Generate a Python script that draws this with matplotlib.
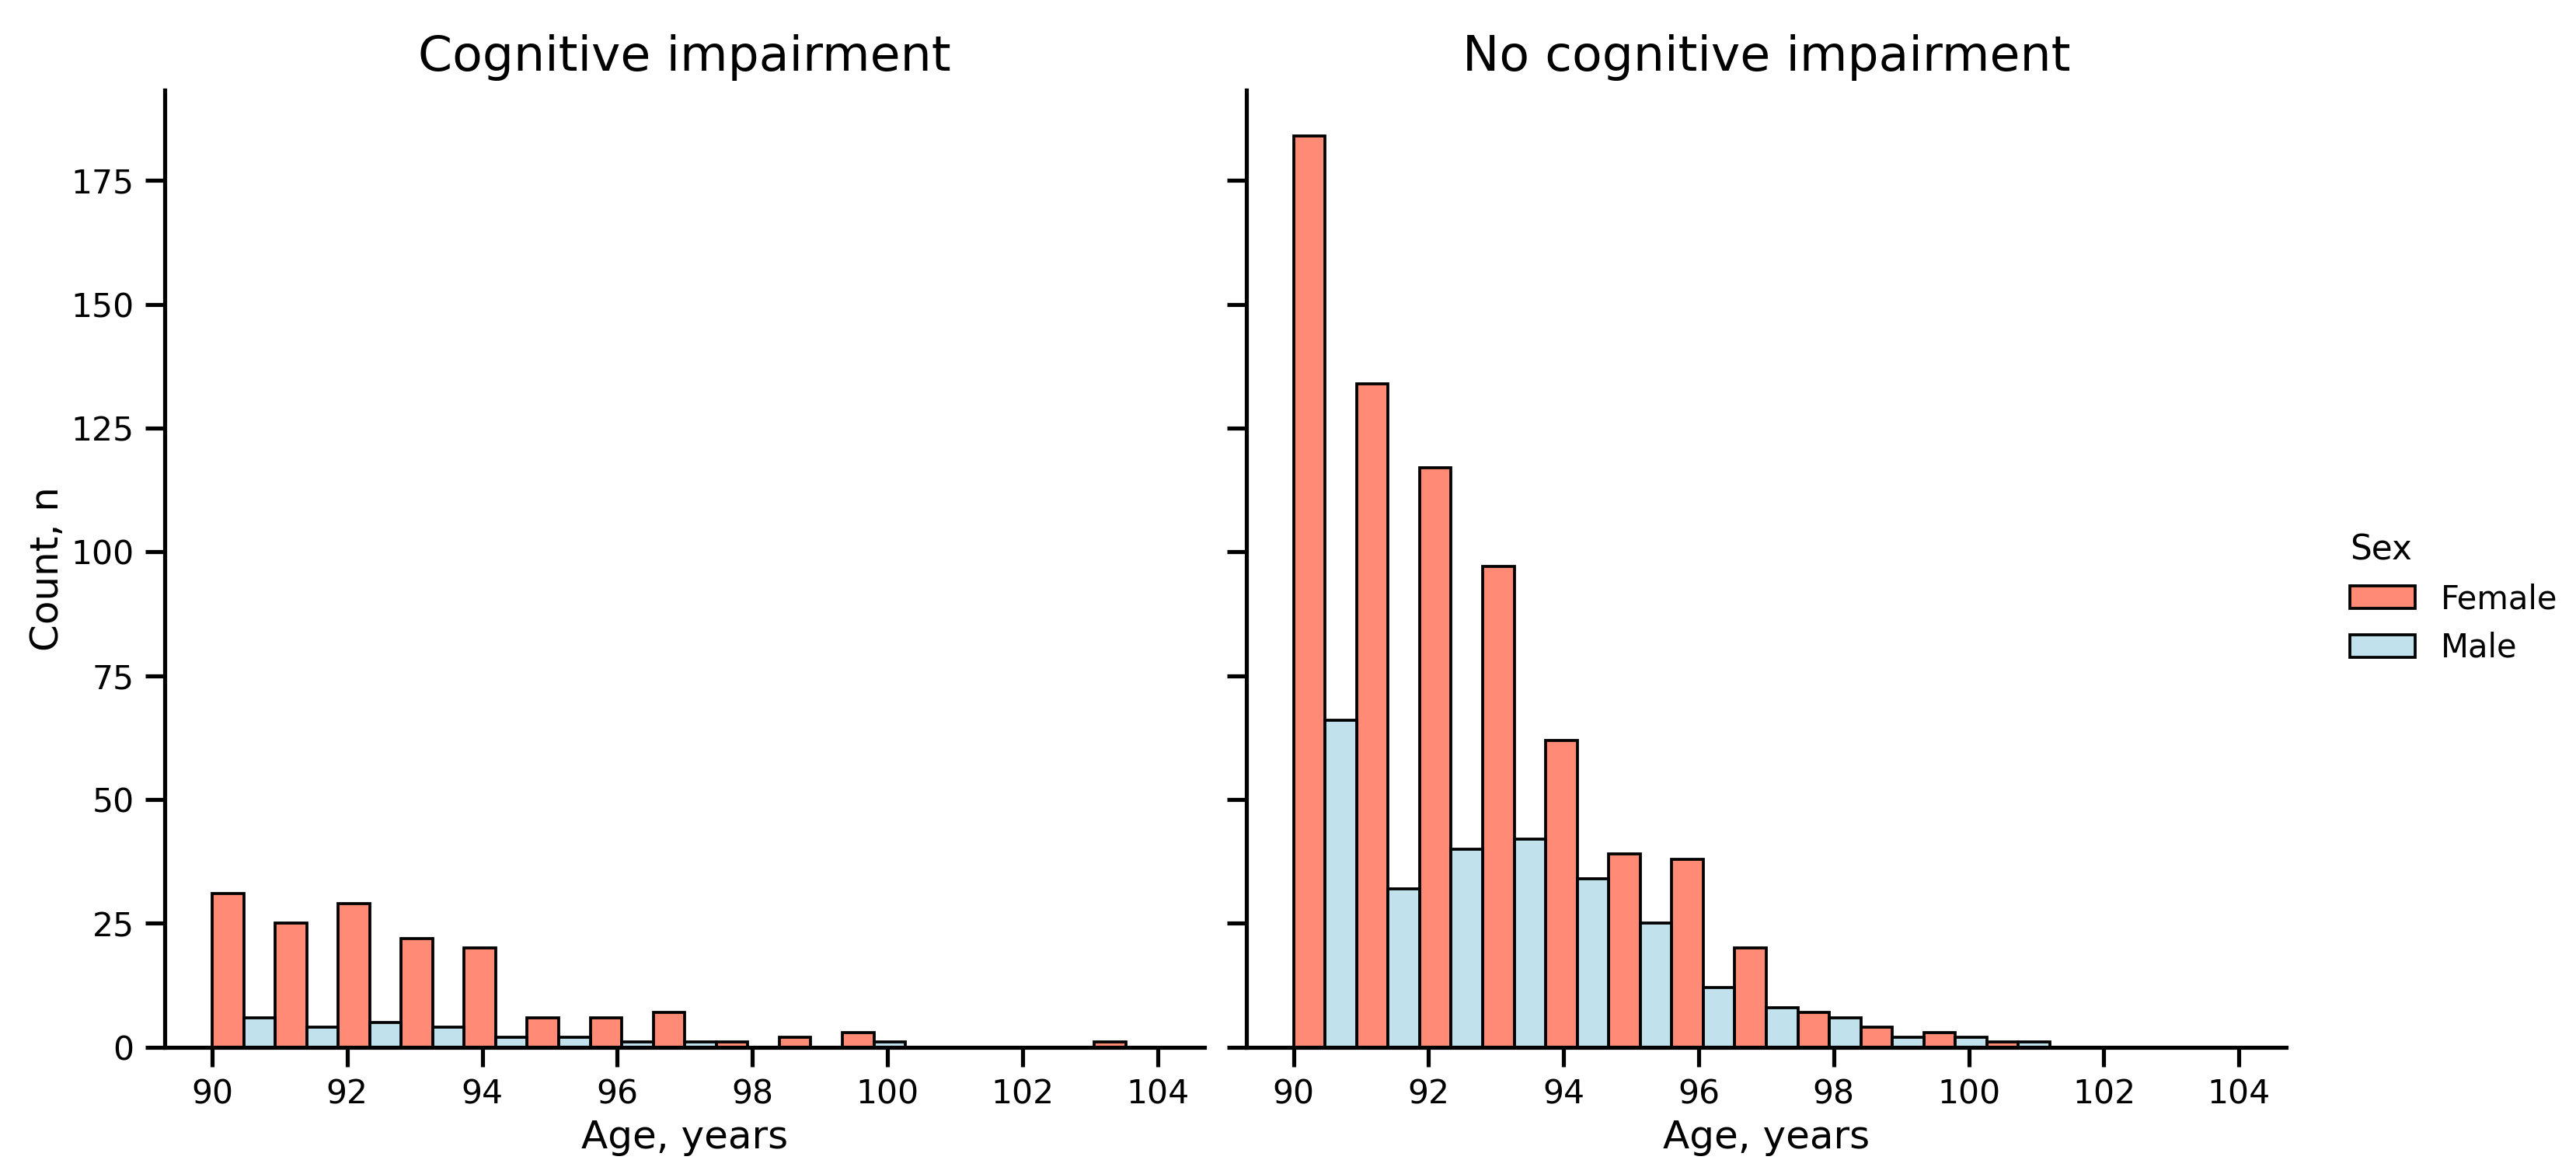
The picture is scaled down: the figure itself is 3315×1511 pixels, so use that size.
import numpy as np
import matplotlib
matplotlib.use("Agg")
import matplotlib.pyplot as plt
from matplotlib.colors import to_rgba
from matplotlib.patches import Patch

# === Data: counts per age (years 90..104) ===
ages = np.arange(90, 105)
panels = ["Cognitive impairment", "No cognitive impairment"]
female_ci = [31, 25, 29, 22, 20, 6, 6, 7, 1, 2, 3, 0, 0, 0, 1]
male_ci = [6, 4, 5, 4, 2, 2, 1, 1, 0, 0, 1, 0, 0, 0, 0]
female_nci = [184, 134, 117, 97, 62, 39, 38, 20, 7, 4, 3, 1, 0, 0, 0]
male_nci = [66, 32, 40, 42, 34, 25, 12, 8, 6, 2, 2, 1, 0, 0, 0]
sex_labels = ["Female", "Male"]

female_col = to_rgba("tomato", 0.75)
male_col = to_rgba("lightblue", 0.75)

# auto bins like seaborn: 15 bins over 90..104
edges = np.linspace(ages.min(), ages.max(), len(ages) + 1)
bin_w = edges[1] - edges[0]

plt.rcParams["axes.linewidth"] = 1.25
plt.rcParams["xtick.major.width"] = 1.25
plt.rcParams["ytick.major.width"] = 1.25
plt.rcParams["xtick.major.size"] = 6
plt.rcParams["ytick.major.size"] = 6

fig, axes = plt.subplots(1, 2, figsize=(11.05, 5.037), dpi=300, sharey=True)
fig.subplots_adjust(left=0.064, right=0.8875, bottom=0.108, top=0.923, wspace=0.04)

data = [(female_ci, male_ci), (female_nci, male_nci)]
for ax, title, (fem, mal) in zip(axes, panels, data):
    ax.bar(edges[:-1], fem, width=bin_w / 2, align="edge",
           facecolor=female_col, edgecolor="black", linewidth=0.9)
    ax.bar(edges[:-1] + bin_w / 2, mal, width=bin_w / 2, align="edge",
           facecolor=male_col, edgecolor="black", linewidth=0.9)
    ax.set_title(title, fontsize=15.2)
    ax.set_xlabel("Age, years", fontsize=12, labelpad=2.5)
    ax.set_xticks(np.arange(90, 105, 2))
    ax.tick_params(labelsize=10.2)
    ax.spines["top"].set_visible(False)
    ax.spines["right"].set_visible(False)

axes[0].set_ylabel("Count, n", fontsize=12, labelpad=1.5)
axes[0].set_ylim(0, 193.2)
axes[0].set_yticks([0, 25, 50, 75, 100, 125, 150, 175])

handles = [Patch(facecolor=female_col, edgecolor="black", linewidth=0.9),
           Patch(facecolor=male_col, edgecolor="black", linewidth=0.9)]
fig.legend(handles, sex_labels, title="Sex", loc="center left",
           bbox_to_anchor=(0.901, 0.49), frameon=False, fontsize=10,
           title_fontsize=10.5, alignment="left")

fig.savefig("out.png", dpi=300)
